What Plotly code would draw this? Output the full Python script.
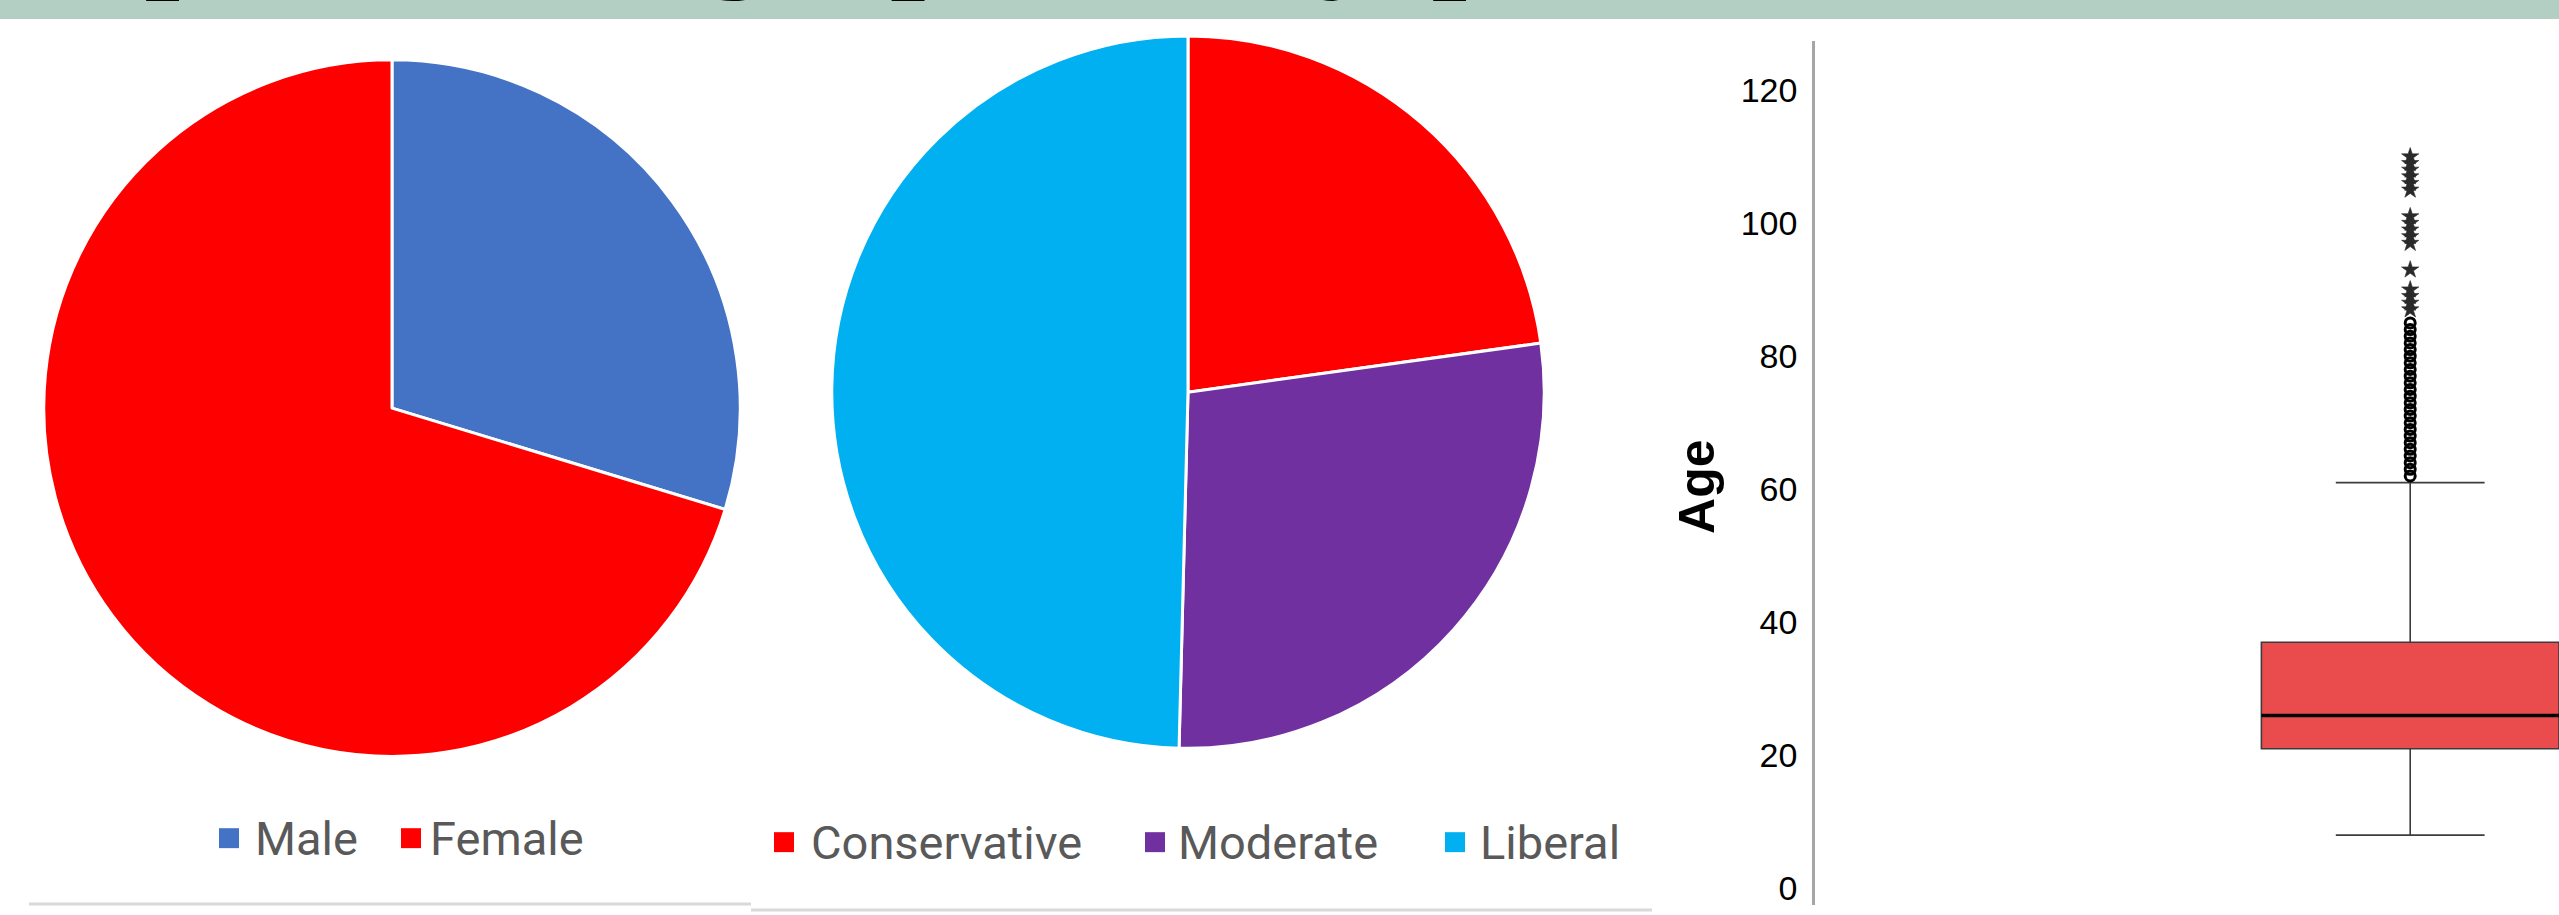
import plotly.graph_objects as go

# ---------------- data ----------------
gender_labels = ["Male", "Female"]
gender_values = [29.7, 70.3]
gender_colors = ["#4472C4", "#FF0000"]

ideology_labels = ["Conservative", "Moderate", "Liberal"]
ideology_values = [22.8, 27.6, 49.6]
ideology_colors = ["#FF0000", "#7030A0", "#00B0F0"]

age_q1 = 21
age_median = 26
age_q3 = 37
age_lower_whisker = 8
age_upper_whisker = 61
age_mild_outliers = [62, 63, 64, 65, 66, 67, 68, 69, 70, 71, 72, 73,
                     74, 75, 76, 77, 78, 79, 80, 81, 82, 83, 84, 85]
age_extreme_outliers = [87, 88, 89, 90, 93, 97, 98, 99, 100, 101,
                        105, 106, 107, 108, 109, 110]
age_ticks = [0, 20, 40, 60, 80, 100, 120]

title_text = "Sample demographics by political orientation"

# ---------------- layout helpers ----------------
W, H = 2559, 915


def fx(px):
    return px / W


def fy(py):
    return 1 - py / H


def pie_domain(cx, cy, r):
    return dict(x=[fx(cx - r), fx(cx + r)], y=[fy(cy + r), fy(cy - r)])


fig = go.Figure()

fig.add_trace(go.Pie(
    labels=gender_labels, values=gender_values,
    marker=dict(colors=gender_colors, line=dict(color="white", width=3)),
    sort=False, direction="clockwise", rotation=0,
    textinfo="none", showlegend=False,
    domain=pie_domain(392, 409, 349),
))

fig.add_trace(go.Pie(
    labels=ideology_labels, values=ideology_values,
    marker=dict(colors=ideology_colors, line=dict(color="white", width=3)),
    sort=False, direction="clockwise", rotation=0,
    textinfo="none", showlegend=False,
    domain=pie_domain(1188, 393, 357),
))

box_width = 2.0
fig.add_trace(go.Box(
    x=[0], q1=[age_q1], median=[age_median], q3=[age_q3],
    lowerfence=[age_lower_whisker], upperfence=[age_upper_whisker],
    orientation="v", width=box_width, whiskerwidth=0.5,
    fillcolor="#EA4B4D", line=dict(color="#3C3C3C", width=1.6),
    boxpoints=False, showlegend=False, xaxis="x", yaxis="y",
))

fig.add_trace(go.Scatter(
    x=[-box_width / 2, box_width / 2], y=[age_median, age_median],
    mode="lines", line=dict(color="black", width=3.5),
    showlegend=False, hoverinfo="skip",
))

fig.add_trace(go.Scatter(
    x=[0] * len(age_mild_outliers), y=age_mild_outliers, mode="markers",
    marker=dict(symbol="circle-open", size=10, color="black",
                line=dict(width=3, color="black")),
    showlegend=False,
))

fig.add_trace(go.Scatter(
    x=[0] * len(age_extreme_outliers), y=age_extreme_outliers, mode="markers",
    marker=dict(symbol="star", size=13, color="#2A2A2A",
                line=dict(width=0.6, color="#2A2A2A")),
    showlegend=False,
))

shapes = []
annotations = []

# title band (slide title mostly above the visible area)
shapes.append(dict(type="rect", xref="paper", yref="paper",
                   x0=0, x1=1, y0=fy(19), y1=1,
                   fillcolor="#B3CEC2", line=dict(width=0), layer="below"))
annotations.append(dict(text=title_text, xref="paper", yref="paper",
                        x=fx(-125), y=1, xanchor="left", yanchor="bottom",
                        yshift=-3, showarrow=False,
                        font=dict(family="Liberation Serif", size=150,
                                  color="black")))

# manual legends
legend_font = dict(family="Roboto", size=47, color="#595959")
legend1_sq = [219, 401]
legend1_tx = [253, 428]
legend1_y = 840
legend2_sq = [774, 1145, 1445]
legend2_tx = [809, 1176, 1478]
legend2_y = 844
sq = 20
for labels, colors, sqx, txx, ly in [
    (gender_labels, gender_colors, legend1_sq, legend1_tx, legend1_y),
    (ideology_labels, ideology_colors, legend2_sq, legend2_tx, legend2_y),
]:
    for lab, col, sx, tx in zip(labels, colors, sqx, txx):
        shapes.append(dict(type="rect", xref="paper", yref="paper",
                           x0=fx(sx), x1=fx(sx + sq),
                           y0=fy(ly + sq / 2), y1=fy(ly - sq / 2),
                           fillcolor=col, line=dict(width=0)))
        annotations.append(dict(text=lab, xref="paper", yref="paper",
                                x=fx(tx), y=fy(ly), xanchor="left",
                                yanchor="middle", showarrow=False,
                                font=legend_font))

# grey separators under legends
shapes.append(dict(type="line", xref="paper", yref="paper",
                   x0=fx(29), x1=fx(751), y0=fy(906), y1=fy(906),
                   line=dict(color="#D9D9D9", width=3)))
shapes.append(dict(type="line", xref="paper", yref="paper",
                   x0=fx(751), x1=fx(1652), y0=fy(912), y1=fy(912),
                   line=dict(color="#D9D9D9", width=3)))

# y axis title
annotations.append(dict(text="<b>Age</b>", xref="paper", yref="paper",
                        x=fx(1697), y=fy(488), xanchor="center",
                        yanchor="middle", textangle=-90, showarrow=False,
                        font=dict(family="Liberation Sans", size=50,
                                  color="black")))

fig.update_layout(
    width=W, height=H, autosize=False,
    margin=dict(l=0, r=0, t=0, b=0),
    paper_bgcolor="white", plot_bgcolor="white",
    shapes=shapes, annotations=annotations,
    xaxis=dict(domain=[fx(1815), 1], range=[-4, 1], visible=False,
               fixedrange=True),
    yaxis=dict(domain=[fy(907), fy(41)], range=[-2.5, 127.4],
               tickvals=age_ticks, ticks="", showgrid=False,
               zeroline=False, showline=True, linecolor="#A6A6A6",
               linewidth=2.5, ticklabelstandoff=8,
               tickfont=dict(family="Liberation Sans", size=34,
                             color="black"),
               fixedrange=True),
    showlegend=False,
)

fig.write_html("out.html", config={"displayModeBar": False},
               post_script="document.body.style.margin='0';")
